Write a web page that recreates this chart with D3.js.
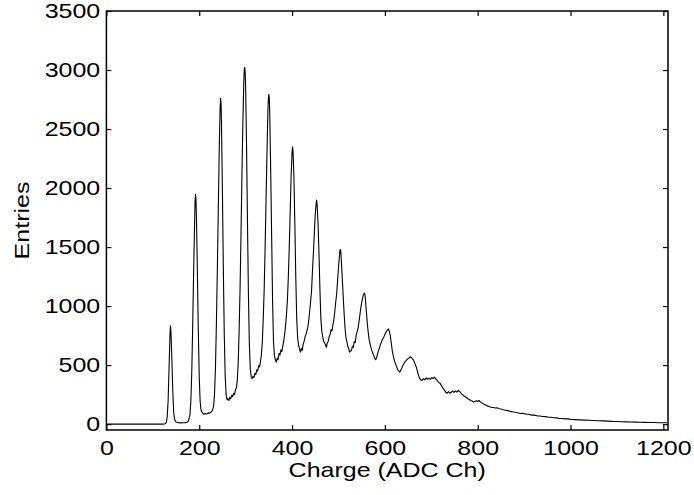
<!DOCTYPE html>
<html>
<head>
<meta charset="utf-8">
<script src="https://cdn.jsdelivr.net/npm/d3@7"></script>
<style>
body { margin: 0; background: #fff; }
svg text { font-family: "Liberation Sans", Arial, Helvetica, sans-serif; fill: #000; }
</style>
</head>
<body>
<div id="chart"></div>
<script>
// spectrum, grouped peak by peak (charge row / entries row)
var charge = [].concat(
	[0, 60, 120, 126, 129, 131, 133, 135, 137, 138, 139, 141, 143, 145, 147, 150, 155, 160, 165, 170, 174, 177],
	[180, 182, 184, 186, 188, 190, 191, 192, 193, 194, 196, 198, 200, 202, 204, 207, 210, 213, 216, 219, 222, 225, 228, 231],
	[233, 235, 237, 239, 241, 243, 245, 246, 247, 248, 250, 252, 254, 256, 258, 260, 262, 264, 266, 268, 270, 272, 274, 276, 278, 280, 282],
	[284, 286, 288, 290, 292, 294, 296, 297, 298, 299, 300, 302, 304, 306, 308, 310, 312, 314, 316, 318, 320, 322, 324, 326, 328, 330, 332, 334],
	[336, 338, 340, 342, 344, 346, 348, 349, 350, 351, 352, 354, 356, 358, 360, 362, 364, 366, 368, 370, 372, 374, 376, 378, 380, 382, 384, 386],
	[388, 390, 392, 394, 396, 398, 400, 401, 402, 404, 406, 408, 410, 412, 414, 416, 418, 420, 422, 424, 426, 428, 430, 432, 434, 436, 438],
	[440, 442, 444, 446, 448, 450, 452, 453, 454, 456, 458, 460, 462, 464, 466, 468, 470, 472, 474, 476, 478, 480, 482, 484, 486, 488, 490, 492],
	[494, 496, 498, 500, 502, 503, 504, 505, 506, 508, 510, 512, 514, 516, 518, 520, 522, 524, 526, 528, 530, 532, 534, 536, 538, 540, 542, 544, 546],
	[548, 550, 552, 554, 556, 557, 558, 560, 562, 564, 566, 568, 570, 572, 574, 576, 578, 580, 582, 584, 586, 588, 590, 592, 594, 596, 598, 600, 602, 604],
	[606, 608, 610, 612, 614, 616, 618, 620, 622, 624, 626, 628, 630, 632, 634, 636, 638, 640, 642, 644, 646, 648, 650, 652, 654, 656, 658, 660, 662, 664, 666, 668, 670, 672, 674, 676, 678],
	[680, 683, 686, 689, 692, 695, 698, 701, 704, 707, 710, 713, 716, 719, 722, 725, 728, 731, 734, 737, 740, 743, 746, 749, 752, 755, 758, 761, 764, 767, 770],
	[773, 776, 779, 782, 785, 788, 791, 794, 797, 800, 803, 806, 809, 812, 815, 818, 821, 824, 827, 830, 834, 838, 842, 846, 850, 855, 860, 865, 870, 875, 880],
	[886, 892, 898, 904, 910, 916, 922, 928, 934, 940, 946, 952, 958, 964, 970, 976, 982, 988, 994, 1000, 1010, 1020, 1030, 1040, 1050, 1060, 1070, 1080, 1090, 1100],
	[1110, 1120, 1130, 1140, 1150, 1160, 1170, 1180, 1190, 1200, 1208]
);

var entries = [].concat(
	[0, 0, 0, 2, 12, 60, 200, 480, 760, 833, 790, 560, 280, 100, 38, 18, 12, 10, 11, 12, 16, 28],
	[80, 200, 450, 850, 1300, 1700, 1880, 1946, 1900, 1750, 1300, 800, 400, 190, 115, 95, 82, 90, 85, 95, 92, 100, 112, 150],
	[260, 480, 850, 1300, 1800, 2300, 2680, 2760, 2720, 2550, 1950, 1300, 750, 400, 250, 205, 215, 200, 228, 215, 245, 232, 260, 250, 290, 305, 370],
	[520, 800, 1150, 1600, 2100, 2550, 2900, 3000, 3023, 2980, 2850, 2350, 1700, 1100, 680, 470, 400, 385, 405, 395, 430, 420, 460, 450, 495, 485, 530, 590],
	[700, 900, 1150, 1500, 1900, 2300, 2650, 2760, 2794, 2760, 2620, 2150, 1600, 1050, 700, 580, 545, 525, 560, 545, 600, 585, 630, 615, 660, 700, 760, 830],
	[930, 1050, 1250, 1500, 1800, 2100, 2300, 2350, 2320, 2100, 1700, 1250, 900, 730, 670, 640, 610, 640, 625, 680, 700, 740, 760, 790, 820, 880, 960],
	[1040, 1130, 1300, 1450, 1620, 1780, 1870, 1898, 1860, 1700, 1450, 1150, 900, 790, 740, 700, 690, 670, 650, 690, 700, 740, 760, 800, 790, 840, 880, 950],
	[1030, 1100, 1210, 1320, 1420, 1470, 1480, 1465, 1400, 1250, 1100, 950, 820, 740, 700, 660, 640, 610, 620, 625, 660, 650, 700, 690, 750, 780, 810, 860, 920],
	[980, 1030, 1070, 1100, 1110, 1100, 1060, 960, 860, 780, 720, 680, 650, 620, 600, 580, 560, 545, 560, 590, 620, 640, 670, 690, 710, 725, 740, 760, 775, 790],
	[800, 805, 780, 740, 680, 620, 580, 545, 520, 500, 480, 460, 450, 440, 455, 470, 490, 505, 520, 530, 540, 548, 555, 560, 570, 565, 560, 550, 540, 520, 500, 480, 450, 420, 395, 380, 372],
	[370, 385, 375, 392, 380, 390, 378, 395, 385, 398, 380, 370, 352, 345, 325, 305, 290, 270, 262, 275, 262, 270, 280, 268, 282, 270, 285, 275, 262, 250, 240],
	[232, 225, 215, 208, 200, 195, 188, 192, 198, 192, 200, 188, 180, 172, 165, 160, 152, 150, 145, 142, 140, 136, 138, 130, 128, 122, 118, 114, 108, 105, 100],
	[96, 90, 91, 84, 83, 76, 76, 70, 69, 64, 63, 58, 58, 54, 53, 48, 48, 44, 44, 40, 38, 36, 34, 32, 30, 28, 27, 25, 23, 22],
	[20, 19, 18, 17, 16, 15, 14, 13, 12, 12, 11]
);

var xTicks = [0, 200, 400, 600, 800, 1000, 1200];
var yTicks = [0, 500, 1000, 1500, 2000, 2500, 3000, 3500];

var W = 694, H = 495;
var plot = {left: 106.4, right: 668, top: 11, bottom: 430};
var stretch = 1.19; // text in the picture is a bit wide

var x = d3.scaleLinear().domain([0, 1210]).range([plot.left, plot.right]);
var y = d3.scaleLinear().domain([-50, 3500]).range([plot.bottom, plot.top]);

var data = charge.map(function(c, i) { return {c: c, v: entries[i]}; });

var svg = d3.select("#chart").append("svg")
	.attr("width", W)
	.attr("height", H);

var valueline = d3.line()
	.x(function(d) { return x(d.c); })
	.y(function(d) { return y(d.v); });

svg.append("path")
	.datum(data)
	.attr("d", valueline)
	.attr("fill", "none")
	.attr("stroke", "#000")
	.attr("stroke-width", 1.1)
	.attr("stroke-linejoin", "round");

function styleAxis(g) {
	g.select(".domain").remove();
	g.selectAll(".tick line").attr("stroke", "#000").attr("stroke-width", 1.2);
	g.attr("font-size", 21).attr("font-family", null);
}

var plain = d3.format("d");

// bottom axis with labels
var gx = svg.append("g")
	.attr("transform", "translate(0," + plot.bottom + ")")
	.call(d3.axisBottom(x).tickValues(xTicks).tickFormat(plain).tickSizeInner(-5).tickSizeOuter(0).tickPadding(10.5));
styleAxis(gx);
gx.selectAll(".tick text").attr("transform", "scale(" + stretch + ",1)");

// left axis with labels
var gy = svg.append("g")
	.attr("transform", "translate(" + plot.left + ",0)")
	.call(d3.axisLeft(y).tickValues(yTicks).tickFormat(plain).tickSizeInner(-5).tickSizeOuter(0).tickPadding(5.2));
styleAxis(gy);
gy.selectAll(".tick text").attr("transform", "scale(" + stretch + ",1)");

// top and right: inward ticks only
var gt = svg.append("g")
	.attr("transform", "translate(0," + plot.top + ")")
	.call(d3.axisTop(x).tickValues(xTicks).tickSizeInner(-5).tickSizeOuter(0).tickFormat(""));
styleAxis(gt);
var gr = svg.append("g")
	.attr("transform", "translate(" + plot.right + ",0)")
	.call(d3.axisRight(y).tickValues(yTicks).tickSizeInner(-5).tickSizeOuter(0).tickFormat(""));
styleAxis(gr);

// box
svg.append("rect")
	.attr("x", plot.left)
	.attr("y", plot.top)
	.attr("width", plot.right - plot.left)
	.attr("height", plot.bottom - plot.top)
	.attr("fill", "none")
	.attr("stroke", "#000")
	.attr("stroke-width", 1.5);

// axis titles
svg.append("text")
	.attr("transform", "translate(" + ((plot.left + plot.right) / 2) + ",477) scale(" + stretch + ",1)")
	.attr("text-anchor", "middle")
	.attr("font-size", 21)
	.text("Charge (ADC Ch)");

svg.append("text")
	.attr("transform", "translate(29," + ((plot.top + plot.bottom) / 2) + ") rotate(-90) scale(" + stretch + ",1)")
	.attr("text-anchor", "middle")
	.attr("font-size", 21)
	.text("Entries");
</script>
</body>
</html>
